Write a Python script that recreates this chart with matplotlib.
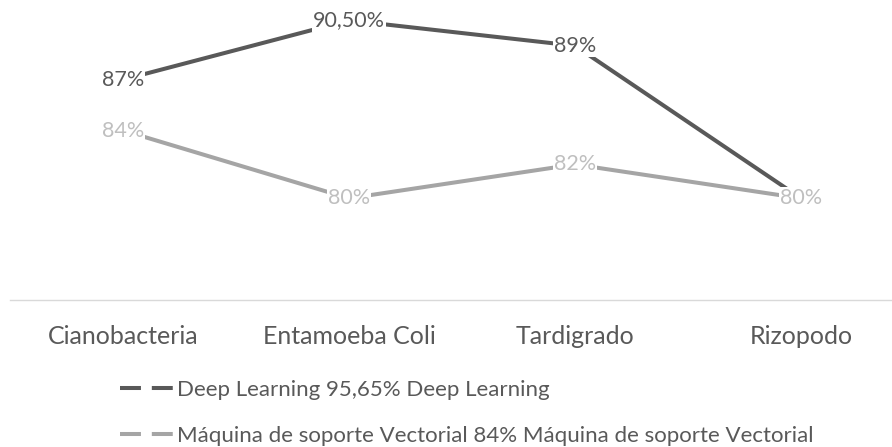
import matplotlib
matplotlib.use("Agg")
import matplotlib.pyplot as plt
from matplotlib.lines import Line2D

categories = ["Cianobacteria", "Entamoeba Coli", "Tardigrado", "Rizopodo"]
deep_learning = [87.0, 90.5, 89.0, 80.0]
svm = [84.0, 80.0, 82.0, 80.0]
deep_labels = ["87%", "90,50%", "89%", "80%"]
svm_labels = ["84%", "80%", "82%", "80%"]
legend_labels = [
    "Deep Learning 95,65% Deep Learning",
    "Máquina de soporte Vectorial 84% Máquina de soporte Vectorial",
]

plt.rcParams["font.family"] = ["Lato", "DejaVu Sans"]

W, H = 892, 447
fig = plt.figure(figsize=(W / 100, H / 100), dpi=100)
fig.patch.set_facecolor("white")

# plot area: x-axis line at y=300 px, categories spaced 226 px apart
ax = fig.add_axes([10 / W, (H - 300) / H, 904 / W, 300 / H])
ax.set_xlim(-0.5, 3.5)
ax.set_ylim(74.0, 91.7)

dl_color = "#595959"
svm_color = "#a5a5a5"
x = list(range(len(categories)))

ax.plot(x, deep_learning, color=dl_color, lw=2.9, solid_capstyle="butt", zorder=2)
ax.plot(x, svm, color=svm_color, lw=2.9, solid_capstyle="butt", zorder=2)

box = dict(facecolor="white", edgecolor="none", pad=1.0)
for xi, v, t in zip(x, deep_learning, deep_labels):
    ax.text(xi, v, t, ha="center", va="center", fontsize=15.5, color="#595959",
            bbox=box, zorder=3)
for xi, v, t in zip(x, svm, svm_labels):
    ax.text(xi, v, t, ha="center", va="center", fontsize=15.5, color="#bfbfbf",
            bbox=box, zorder=3)

for s in ["top", "right", "left"]:
    ax.spines[s].set_visible(False)
ax.spines["bottom"].set_color("#d9d9d9")
ax.spines["bottom"].set_linewidth(1.0)
ax.set_yticks([])
ax.set_xticks(x)
ax.set_xticklabels(categories, fontsize=18, color="#595959")
ax.tick_params(axis="x", length=0, pad=18)

dash = (0, (5.2, 2.7, 5.2, 2.7))
handles = [
    Line2D([], [], color=dl_color, lw=2.9, linestyle=dash),
    Line2D([], [], color=svm_color, lw=2.9, linestyle=dash),
]
fig.legend(handles, legend_labels, loc="upper left",
           bbox_to_anchor=(120 / W, 1 - 380 / H), frameon=False,
           fontsize=16, labelcolor="#595959", handlelength=2.45,
           handletextpad=0.12, labelspacing=1.15, borderaxespad=0,
           borderpad=0)

fig.savefig("out.png", dpi=100, facecolor="white")
